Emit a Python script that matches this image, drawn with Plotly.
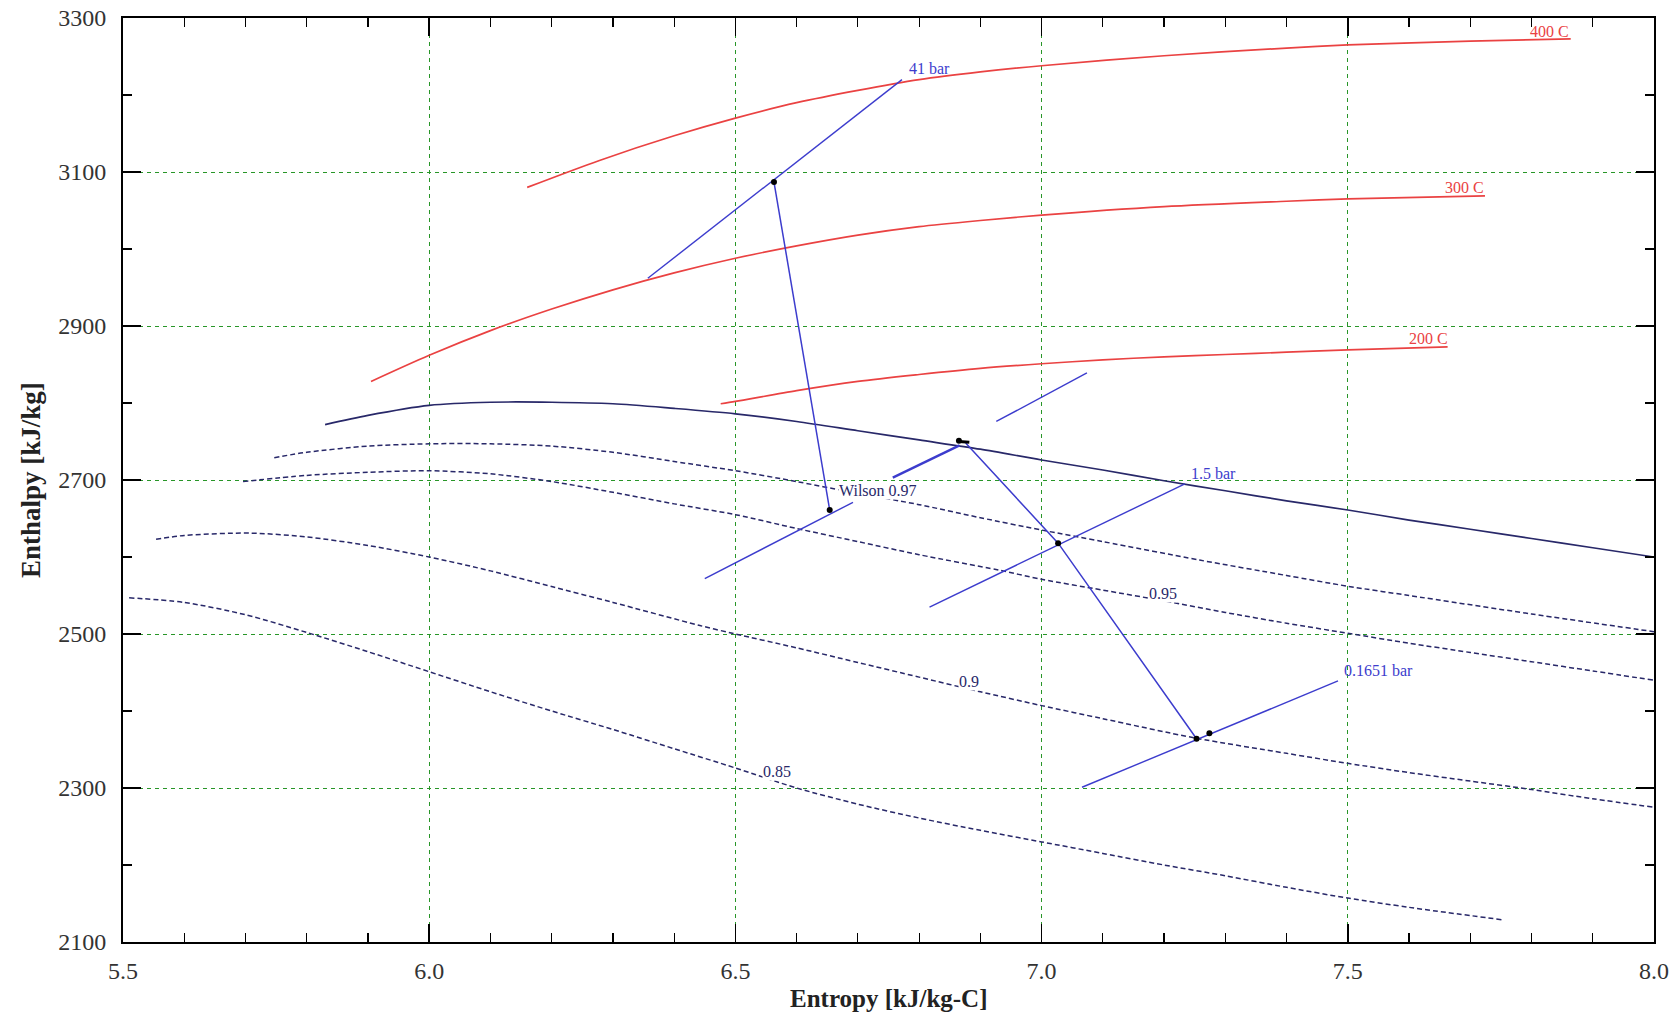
import plotly.graph_objects as go

# ---------------- data (entropy kJ/kg-C, enthalpy kJ/kg) ----------------
t400_s = [6.16, 6.278, 6.4, 6.5, 6.6, 6.7, 6.8, 6.9, 7.0, 7.2, 7.4, 7.5, 7.7, 7.864]
t400_h = [3080, 3115, 3147, 3170, 3190, 3206, 3220, 3230, 3238, 3251, 3261, 3265, 3270, 3273]

t300_s = [5.905, 6.0, 6.1, 6.2, 6.3, 6.4, 6.5, 6.6, 6.7, 6.8, 6.9, 7.0, 7.2, 7.4, 7.5, 7.724]
t300_h = [2828, 2862, 2894, 2922, 2947, 2969, 2988, 3004, 3018, 3029, 3037, 3044, 3055, 3062, 3065, 3069]

t200_s = [6.476, 6.5, 6.6, 6.7, 6.8, 6.9, 7.0, 7.1, 7.2, 7.3, 7.4, 7.5, 7.663]
t200_h = [2799, 2802, 2816, 2828, 2837, 2845, 2851, 2856, 2860, 2863, 2866, 2869, 2873]

sat_s = [5.83, 5.9, 6.0, 6.1, 6.2, 6.3, 6.4, 6.5, 6.6, 6.7, 6.8, 6.9, 7.0, 7.1, 7.2, 7.3,
         7.4, 7.5, 7.6, 7.7, 7.8, 7.9, 8.0]
sat_h = [2772, 2784, 2797, 2801, 2801, 2799, 2793, 2786, 2776, 2764, 2752, 2740, 2726, 2713,
         2699, 2686, 2673, 2661, 2648, 2636, 2624, 2612, 2600]

q97_s = [5.747, 5.8, 5.9, 6.0, 6.1, 6.2, 6.3, 6.4, 6.5, 6.6, 6.684, 6.8, 6.9, 7.0, 7.1,
         7.258, 7.4, 7.5, 7.6, 7.8, 8.0]
q97_h = [2729, 2736, 2744, 2747, 2747, 2744, 2736, 2724, 2712, 2698, 2685, 2668, 2651, 2635,
         2620, 2596, 2576, 2562, 2550, 2526, 2503]

q95_s = [5.696, 5.8, 5.9, 6.0, 6.1, 6.2, 6.3, 6.4, 6.5, 6.6, 6.7, 6.8, 6.93, 7.0, 7.1, 7.2,
         7.3, 7.4, 7.5, 7.6, 7.7, 7.8, 7.9, 8.0]
q95_h = [2698, 2706, 2710, 2712, 2708, 2698, 2684, 2669, 2655, 2637, 2620, 2603, 2583, 2571,
         2557, 2543, 2528, 2514, 2501, 2488, 2476, 2464, 2452, 2440]

q90_s = [5.554, 5.6, 5.707, 5.8, 5.9, 6.0, 6.1, 6.203, 6.3, 6.442, 6.5, 6.6, 6.7, 6.8, 6.9,
         7.0, 7.1, 7.25, 7.4, 7.5, 7.6, 7.7, 7.8, 7.9, 8.0]
q90_h = [2623, 2628, 2631, 2626, 2615, 2600, 2582, 2561, 2541, 2511, 2500, 2482, 2463, 2444,
         2425, 2407, 2390, 2365, 2345, 2332, 2320, 2309, 2298, 2286, 2275]

q85_s = [5.51, 5.6, 5.7, 5.8, 5.9, 6.0, 6.1, 6.2, 6.3, 6.4, 6.5, 6.6, 6.7, 6.8, 6.9,
         7.0, 7.1, 7.2, 7.3, 7.4, 7.5, 7.6, 7.751]
q85_h = [2547, 2541, 2525, 2502, 2477, 2451, 2425, 2400, 2376, 2351, 2326, 2300, 2279, 2261,
         2245, 2230, 2215, 2200, 2186, 2171, 2157, 2145, 2129]

# isobars (short straight segments)
p41_s = [6.357, 6.772]
p41_h = [2962, 3220]
pw_s = [6.45, 6.692]
pw_h = [2572, 2671]
p15_s = [6.817, 7.234]
p15_h = [2535, 2695]
p0165_s = [7.066, 7.484]
p0165_h = [2301, 2439]
seg_a_s = [6.757, 6.866]
seg_a_h = [2703, 2745]
seg_b_s = [6.926, 7.074]
seg_b_h = [2776, 2839]

# expansion lines
exp1_s = [6.563, 6.654]
exp1_h = [3087, 2661]
exp2_s = [6.876, 7.027, 7.253]
exp2_h = [2748, 2618, 2364]

# state points
pts_s = [6.563, 6.654, 6.865, 7.027, 7.253, 7.274]
pts_h = [3087, 2661, 2751, 2618, 2364, 2371]
dash_s = [6.865, 6.882]
dash_h = [2750, 2749]

# labels
red_labels = ["400 C", "300 C", "200 C"]
red_lab_s = [7.795, 7.655, 7.596]
red_lab_h = [3283, 3080, 2884]
blue_labels = ["41 bar", "1.5 bar", "0.1651 bar"]
blue_lab_s = [6.780, 7.241, 7.490]
blue_lab_h = [3234, 2708, 2452]
q_labels = ["Wilson 0.97", "0.95", "0.9", "0.85"]
q_lab_s = [6.668, 7.174, 6.863, 6.543]
q_lab_h = [2687, 2553, 2438, 2322]

x_ticks = [5.5, 6.0, 6.5, 7.0, 7.5, 8.0]
x_ticklabels = ["5.5", "6.0", "6.5", "7.0", "7.5", "8.0"]
y_ticks = [2100, 2300, 2500, 2700, 2900, 3100, 3300]

# ---------------- styles ----------------
RED = "rgb(234,66,66)"
NAVY = "rgb(40,40,105)"
BLUE = "rgb(60,60,205)"
SERIF = "Liberation Serif, Times New Roman, serif"

fig = go.Figure()

def line(s, h, color, width=1.5, dash=None, shape="linear"):
    fig.add_trace(go.Scatter(x=s, y=h, mode="lines",
                             line=dict(color=color, width=width, dash=dash,
                                       shape=shape, smoothing=0.8),
                             hoverinfo="skip", showlegend=False))

for s, h in [(t400_s, t400_h), (t300_s, t300_h), (t200_s, t200_h)]:
    line(s, h, RED, 1.7, shape="spline")

line(sat_s, sat_h, NAVY, 1.7, shape="spline")
for s, h in [(q97_s, q97_h), (q95_s, q95_h), (q90_s, q90_h), (q85_s, q85_h)]:
    line(s, h, NAVY, 1.5, "5px,3px", shape="spline")

for s, h in [(p41_s, p41_h), (pw_s, pw_h), (p15_s, p15_h), (p0165_s, p0165_h),
             (seg_b_s, seg_b_h)]:
    line(s, h, BLUE, 1.4)
line(seg_a_s, seg_a_h, BLUE, 2.4)

line(exp1_s, exp1_h, BLUE, 1.5)
line(exp2_s, exp2_h, BLUE, 1.5)
line(dash_s, dash_h, "black", 3)

fig.add_trace(go.Scatter(x=pts_s, y=pts_h, mode="markers",
                         marker=dict(color="black", size=6),
                         hoverinfo="skip", showlegend=False))

for t, s, h in zip(red_labels, red_lab_s, red_lab_h):
    fig.add_annotation(x=s, y=h, text=t, showarrow=False, xanchor="left", yanchor="middle",
                       font=dict(family=SERIF, size=16, color=RED))
for t, s, h in zip(blue_labels, blue_lab_s, blue_lab_h):
    fig.add_annotation(x=s, y=h, text=t, showarrow=False, xanchor="left", yanchor="middle",
                       font=dict(family=SERIF, size=16, color=BLUE))
for t, s, h in zip(q_labels, q_lab_s, q_lab_h):
    fig.add_annotation(x=s, y=h, text=t, showarrow=False, xanchor="left", yanchor="middle",
                       bgcolor="white", borderpad=0,
                       font=dict(family=SERIF, size=16, color=NAVY))

# axis titles
fig.add_annotation(x=0.5, y=0, xref="paper", yref="paper", yshift=-56,
                   text="<b>Entropy [kJ/kg-C]</b>", showarrow=False,
                   xanchor="center", yanchor="middle",
                   font=dict(family=SERIF, size=25, color="#222"))
fig.add_annotation(x=0, y=0.5, xref="paper", yref="paper", xshift=-92,
                   text="<b>Enthalpy [kJ/kg]</b>", showarrow=False, textangle=-90,
                   xanchor="center", yanchor="middle",
                   font=dict(family=SERIF, size=27, color="#222"))

axis_common = dict(
    showline=True, linecolor="black", linewidth=2, mirror="ticks",
    ticks="inside", ticklen=18, tickwidth=1.5, tickcolor="black",
    showgrid=True, gridcolor="rgb(40,150,40)", griddash="4px,4px", gridwidth=1,
    zeroline=False, automargin=False, ticklabeloverflow="allow",
    tickfont=dict(family=SERIF, size=24, color="#333"),
)

fig.update_xaxes(range=[5.5, 8.0], tickvals=x_ticks, ticktext=x_ticklabels,
                 ticklabelstandoff=6,
                 minor=dict(dtick=0.1, ticks="inside", ticklen=9, tickwidth=1.2,
                            tickcolor="black", showgrid=False),
                 **axis_common)
fig.update_yaxes(range=[2100, 3300], tickvals=y_ticks,
                 ticklabelstandoff=10,
                 minor=dict(dtick=100, ticks="inside", ticklen=9, tickwidth=1.2,
                            tickcolor="black", showgrid=False),
                 **axis_common)

fig.update_layout(width=1679, height=1018, autosize=False,
                  margin=dict(l=123, r=25, t=18, b=76, pad=0),
                  plot_bgcolor="white", paper_bgcolor="white", hovermode=False)

# remove the default page margin so the figure sits at the window's top-left corner
fig.write_html("out.html",
               config={"displayModeBar": False, "staticPlot": True},
               post_script="document.body.style.margin='0';document.body.style.overflow='hidden';")
